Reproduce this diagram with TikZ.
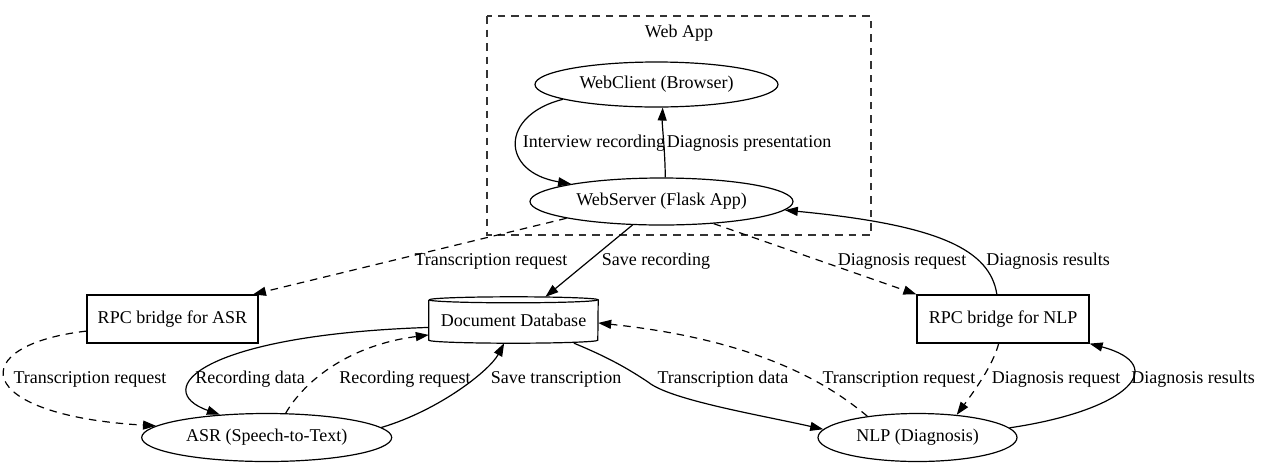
\documentclass[tikz,border=0pt]{standalone}
\usepackage{fontspec}
\setmainfont{Liberation Serif}
\usetikzlibrary{arrows.meta,shapes.geometric,calc}
\begin{document}
\begin{tikzpicture}[x=1pt,y=-1pt,
  every node/.style={font=\fontsize{18}{21}\selectfont},
  ell/.style={ellipse, draw, line width=1.2pt, inner sep=0pt},
  box/.style={rectangle, draw, line width=1.2pt, inner sep=0pt},
  conn/.style={line width=1.2pt, -{Triangle[length=13pt,width=9pt]}},
  dconn/.style={conn, dash pattern=on 7.5pt off 6pt},
  lbl/.style={inner sep=0pt}]
\useasboundingbox (0,0) rectangle (1261,467);
% cluster
\draw[line width=1.1pt, draw=black!80, dash pattern=on 7.5pt off 6pt] (487,16) rectangle (871,235);
\node[lbl] (webapp) at (679,33) {Web App};
% nodes
\node[ell, minimum width=243pt, minimum height=45pt] (wc) at (656.5,84.5) {WebClient (Browser)};
\node[ell, minimum width=263pt, minimum height=47pt] (ws) at (661.5,201.5) {WebServer (Flask App)};
\node[box, minimum width=171pt, minimum height=48pt] (rpcasr) at (172.5,319) {RPC bridge for ASR};
\node[box, minimum width=172pt, minimum height=48pt] (rpcnlp) at (1003,319) {RPC bridge for NLP};
\node[rectangle, inner sep=0pt, minimum width=169pt, minimum height=46pt] (db) at (513.5,320) {Document Database};
\node[ell, minimum width=250pt, minimum height=48pt] (asr) at (266.7,437.5) {ASR (Speech-to-Text)};
\node[ell, minimum width=199pt, minimum height=48pt] (nlp) at (917.5,437.5) {NLP (Diagnosis)};
% cylinder outline
\draw[line width=1.2pt] ([yshift=-3pt]db.north west) -- ([yshift=3pt]db.south west)
  arc[start angle=180, end angle=360, x radius=84.5pt, y radius=3pt]
  -- ([yshift=-3pt]db.north east)
  arc[start angle=0, end angle=180, x radius=84.5pt, y radius=3pt];
\draw[line width=1.2pt] ([yshift=-3pt]db.north west)
  arc[start angle=180, end angle=360, x radius=84.5pt, y radius=3pt];
% edges
\draw[conn] (wc.189) .. controls (500,115) and (500,172) .. (ws.169);
\draw[conn] (ws.81.5) .. controls (665,150) and (662,125) .. (wc.285.5);
\draw[dconn] (ws.190) -- (rpcasr.17);
\draw[conn] (ws.219.5) -- (db.36);
\draw[dconn] (ws.337.3) -- (rpcnlp.north west);
\draw[conn] (rpcnlp.104) .. controls (990,250) and (940,225) .. (ws.356);
\draw[dconn] (rpcasr.188) .. controls (-35,345) and (-30,415) .. (asr.174);
\draw[conn] (db.185) .. controls (200,335) and (150,390) .. (asr.154.5);
\draw[dconn] (asr.52) .. controls (305,380) and (350,345) .. (db.190);
\draw[conn] (asr.5) .. controls (440,410) and (490,370) .. (db.248);
\draw[conn] (db.339.5) .. controls (610,358) and (630,370) .. (648,382)
  .. controls (670,400) and (760,415) .. (nlp.175);
\draw[dconn] (nlp.157) .. controls (830,385) and (760,340) .. (db.358);
\draw[dconn] (rpcnlp.260) .. controls (993,365) and (975,390) .. (nlp.30.6);
\draw[conn] (nlp.6) .. controls (1130,410) and (1170,365) .. (rpcnlp.south east);
% labels
\node[lbl] (l1) at (594,143) {Interview recording};
\node[lbl] (l2) at (749,143) {Diagnosis presentation};
\node[lbl] (l3) at (491,261) {Transcription request};
\node[lbl] (l4) at (656,261) {Save recording};
\node[lbl] (l5) at (902,261) {Diagnosis request};
\node[lbl] (l6) at (1048,261) {Diagnosis results};
\node[lbl] (l7) at (90,379.5) {Transcription request};
\node[lbl] (l8) at (250,379.5) {Recording data};
\node[lbl] (l9) at (405,379.5) {Recording request};
\node[lbl] (l10) at (556,379.5) {Save transcription};
\node[lbl] (l11) at (723,379.5) {Transcription data};
\node[lbl] (l12) at (899,379.5) {Transcription request};
\node[lbl] (l13) at (1056,379.5) {Diagnosis request};
\node[lbl] (l14) at (1193,379.5) {Diagnosis results};
\end{tikzpicture}
\end{document}
